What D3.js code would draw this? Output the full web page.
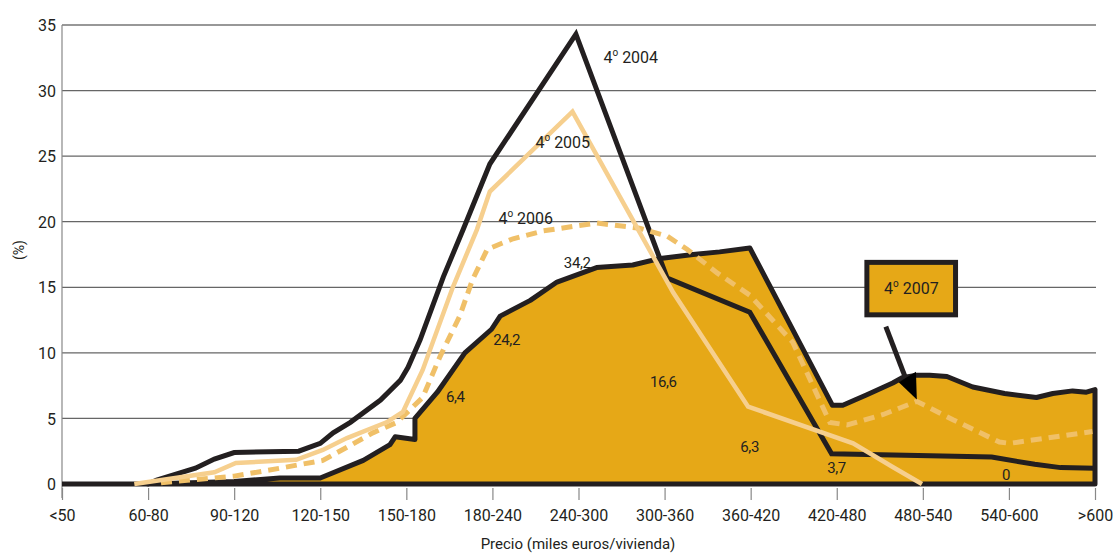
<!DOCTYPE html>
<html>
<head>
<meta charset="utf-8">
<script src="https://cdn.jsdelivr.net/npm/d3@7"></script>
<style>
  body { margin: 0; background: #fff; }
  svg text { font-family: Roboto, "Open Sans", sans-serif; fill: #231f20; }
</style>
</head>
<body>
<div id="chart"></div>
<script>
// tramos de precio (miles euros/vivienda)
const categories = ["<50", "60-80", "90-120", "120-150", "150-180", "180-240", "240-300",
    "300-360", "360-420", "420-480", "480-540", "540-600", ">600"];
const yTicks = [0, 5, 10, 15, 20, 25, 30, 35];

// [posición en el eje (índice de tramo), %]
const q2004 = [[0, 0], [1, 0], [1.1, 0.3], [1.55, 1.2], [1.77, 1.9], [2, 2.4], [2.75, 2.5],
    [3, 3.1], [3.15, 3.9], [3.35, 4.7], [3.7, 6.4], [3.93, 7.9], [4.02, 8.9], [4.16, 11],
    [4.43, 15.8], [4.66, 19.4], [4.97, 24.4], [5.97, 34.3], [7.03, 15.7], [7.99, 13.1],
    [8.94, 2.3], [10.8, 2.05], [11.3, 1.5], [11.6, 1.25], [12, 1.2]];

const q2005 = [[0.84, 0], [1.77, 0.9], [2.02, 1.6], [2.72, 1.85], [3.03, 2.6], [3.31, 3.5],
    [3.77, 4.7], [3.96, 5.5], [4.19, 8.7], [4.54, 15.0], [4.82, 19.4], [4.97, 22.3],
    [5.93, 28.4], [7.1, 14.6], [7.97, 5.9], [9.19, 3.1], [9.65, 1.3], [9.99, 0]];

const q2006 = [[1.15, 0.1], [2.0, 0.6], [2.53, 1.2], [3.03, 1.8], [3.31, 2.8], [3.61, 3.9],
    [3.89, 4.7], [4.19, 6.6], [4.39, 9.7], [4.62, 12.8], [4.77, 15.6], [4.94, 17.9],
    [5.24, 18.7], [5.59, 19.3], [6.21, 19.9], [6.71, 19.5], [7.03, 18.9], [7.26, 17.9],
    [7.61, 16.1], [7.99, 14.4], [8.49, 10.8], [8.92, 4.7], [9.12, 4.5], [9.54, 5.3],
    [9.93, 6.3], [10.35, 4.9], [10.89, 3.2], [11.01, 3.1], [11.97, 4.0]];

const q2007 = [[1, 0], [2, 0.2], [2.53, 0.46], [3, 0.46], [3.5, 1.8], [3.81, 3.0], [3.87, 3.6],
    [4.1, 3.4], [4.1, 5.0], [4.36, 7.0], [4.68, 10.0], [4.99, 11.8], [5.09, 12.8],
    [5.44, 14.0], [5.75, 15.4], [6.21, 16.5], [6.63, 16.7], [6.95, 17.2], [7.33, 17.5],
    [7.64, 17.7], [7.99, 18.0], [8.95, 6.0], [9.07, 6.0], [9.35, 6.8], [9.65, 7.7],
    [9.76, 8.1], [9.93, 8.3], [10.08, 8.3], [10.28, 8.2], [10.58, 7.4], [10.95, 6.9],
    [11.32, 6.6], [11.51, 6.9], [11.74, 7.1], [11.9, 7.0], [12, 7.2]];

// rótulos de series y valores: [texto, índice, %]
const seriesLabels = [["2004", 6.29, 32.1], ["2005", 5.5, 25.6], ["2006", 5.07, 19.8]];
const valueLabels = [["34,2", 5.83, 16.5], ["24,2", 5.01, 10.6], ["6,4", 4.46, 6.25],
    ["16,6", 6.83, 7.4], ["6,3", 7.88, 2.44], ["3,7", 8.89, 0.84], ["0", 10.92, 0.3]];

const width = 1116;
const height = 555;
const black = "#231f20";
const gold = "#e6a817";

const x = d3.scaleLinear().domain([0, 12]).range([62, 1095]);
const y = d3.scaleLinear().domain([0, 35]).range([484, 25]);

const svg = d3.select("#chart").append("svg")
    .attr("width", width).attr("height", height);

// rejilla
svg.append("g").selectAll("line")
    .data(yTicks.filter(d => d > 0))
    .enter().append("line")
    .attr("x1", x(0)).attr("x2", x(12) + 1)
    .attr("y1", d => y(d)).attr("y2", d => y(d))
    .attr("stroke", d => d === 35 ? "#333" : "#666")
    .attr("stroke-width", 1.2);

// eje y
svg.append("line")
    .attr("x1", x(0)).attr("x2", x(0))
    .attr("y1", y(35)).attr("y2", 498)
    .attr("stroke", "#888").attr("stroke-width", 1.2);

const yAxis = svg.append("g")
    .attr("transform", "translate(" + (x(0) - 6) + ",0)")
    .call(d3.axisLeft(y).tickValues(yTicks).tickSize(0).tickPadding(0));
yAxis.select(".domain").remove();
yAxis.selectAll("text").style("font-size", "16px").attr("dy", "0.35em");

// eje x
const xAxis = svg.append("g")
    .attr("transform", "translate(0,488)")
    .call(d3.axisBottom(x).tickValues(d3.range(13))
        .tickFormat(i => categories[i]).tickSize(12).tickPadding(10));
xAxis.select(".domain").remove();
xAxis.selectAll(".tick line").attr("stroke", "#888").attr("stroke-width", 1.2);
xAxis.selectAll("text").style("font-size", "16px");

svg.append("text")
    .attr("x", 578).attr("y", 549)
    .attr("text-anchor", "middle")
    .style("font-size", "15px")
    .text("Precio (miles euros/vivienda)");

svg.append("text")
    .attr("transform", "translate(24,250) rotate(-90)")
    .attr("text-anchor", "middle")
    .style("font-size", "14px")
    .text("(%)");

// área 2007
const area = d3.area()
    .x(d => x(d[0])).y0(y(0)).y1(d => y(d[1]));
svg.append("path")
    .datum(q2007)
    .attr("d", area)
    .attr("fill", gold)
    .attr("stroke", black)
    .attr("stroke-width", 5)
    .attr("stroke-linejoin", "round");

const line = d3.line().x(d => x(d[0])).y(d => y(d[1]));

svg.append("path")
    .datum(q2004)
    .attr("d", line)
    .attr("fill", "none")
    .attr("stroke", black)
    .attr("stroke-width", 5)
    .attr("stroke-linejoin", "miter");

svg.append("path")
    .datum(q2006)
    .attr("d", line)
    .attr("fill", "none")
    .attr("stroke", "#f0c068")
    .attr("stroke-width", 5)
    .attr("stroke-dasharray", "11,7");

svg.append("path")
    .datum(q2005)
    .attr("d", line)
    .attr("fill", "none")
    .attr("stroke", "#f6cf8e")
    .attr("stroke-width", 4.5);

// rótulos "4º año"
function ordinalLabel(g, year) {
    g.append("tspan").text("4");
    g.append("tspan").text("o").style("font-size", "10px").attr("dy", "-7");
    g.append("tspan").text(" " + year).attr("dy", "7");
}

seriesLabels.forEach(function (d) {
    let t = svg.append("text")
        .attr("x", x(d[1])).attr("y", y(d[2]))
        .style("font-size", "16px");
    ordinalLabel(t, d[0]);
});

svg.append("g").selectAll("text")
    .data(valueLabels)
    .enter().append("text")
    .attr("x", d => x(d[1])).attr("y", d => y(d[2]))
    .style("font-size", "15px")
    .style("letter-spacing", "-0.4px")
    .text(d => d[0]);

// leyenda 4º 2007 con flecha
svg.append("rect")
    .attr("x", x(9.35)).attr("y", y(16.9))
    .attr("width", x(10.38) - x(9.35)).attr("height", y(12.9) - y(16.9))
    .attr("fill", gold)
    .attr("stroke", black)
    .attr("stroke-width", 5);

let legendText = svg.append("text")
    .attr("x", x(9.55)).attr("y", y(14.5))
    .style("font-size", "16px");
ordinalLabel(legendText, "2007");

svg.append("line")
    .attr("x1", x(9.57)).attr("y1", y(12.0))
    .attr("x2", x(9.81)).attr("y2", y(7.9))
    .attr("stroke", black).attr("stroke-width", 5);

svg.append("path")
    .attr("d", "M" + x(9.93) + "," + y(6.45) + "L" + x(9.72) + "," + y(7.75) +
        "L" + x(9.92) + "," + y(8.55) + "Z")
    .attr("fill", "#000");
</script>
</body>
</html>
